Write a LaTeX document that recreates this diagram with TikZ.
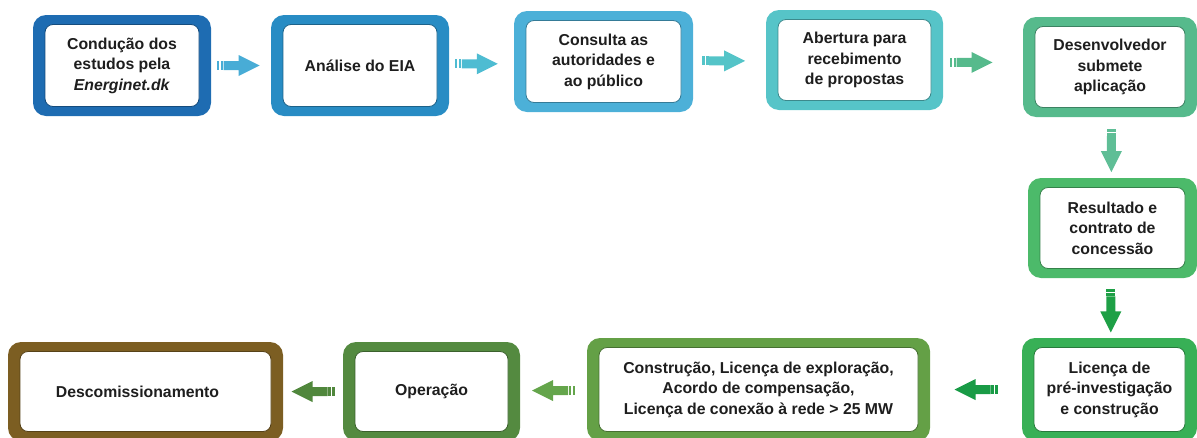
\documentclass[tikz,border=0pt]{standalone}
\usepackage{fontspec}
\setmainfont{Liberation Sans}
\usetikzlibrary{calc}
\definecolor{cA}{RGB}{30,108,178}
\definecolor{cB}{RGB}{40,140,196}
\definecolor{cC}{RGB}{76,176,216}
\definecolor{cD}{RGB}{86,196,200}
\definecolor{cE}{RGB}{86,186,140}
\definecolor{cF}{RGB}{76,186,106}
\definecolor{cG}{RGB}{56,176,86}
\definecolor{cH}{RGB}{100,160,70}
\definecolor{cI}{RGB}{84,138,64}
\definecolor{cJ}{RGB}{124,94,34}
\definecolor{aA}{RGB}{72,172,214}
\definecolor{aB}{RGB}{78,188,210}
\definecolor{aC}{RGB}{84,196,200}
\definecolor{aD}{RGB}{86,186,140}
\definecolor{aE}{RGB}{95,190,150}
\definecolor{aF}{RGB}{30,160,70}
\definecolor{aG}{RGB}{25,155,70}
\definecolor{aH}{RGB}{100,165,75}
\definecolor{aI}{RGB}{80,135,60}
\definecolor{txt}{RGB}{30,30,30}
\tikzset{
  outerbox/.style={rectangle, rounded corners=13pt, inner sep=0pt, draw=none},
  innerbox/.style={rectangle, rounded corners=8pt, fill=white, line width=0.8pt,
    inner sep=0pt, align=center, text=txt, font=\fontsize{15.8}{20.5}\selectfont\bfseries},
  blockarrow/.pic={
    \fill (-21.5,-4.5) rectangle (-19,4.5);
    \fill (-17.5,-4.5) rectangle (-15,4.5);
    \fill (-14.5,-4.5) -- (0.5,-4.5) -- (0.5,-10.5) -- (21.5,0) -- (0.5,10.5) -- (0.5,4.5) -- (-14.5,4.5) -- cycle;
  }
}
\newcommand{\flowbox}[7]{%
  \node[outerbox, fill=#6, minimum width=#4, minimum height=#5] (#1) at (#2,#3) {};
  \node[innerbox, draw=#6!70!black, minimum width=#4-24, minimum height=#5-19] (#1-in) at (#1.center) {#7};
}
\begin{document}
\begin{tikzpicture}[x=1pt,y=-1pt]
\useasboundingbox (0,0) rectangle (1197,437);
% top row
\flowbox{b1}{122}{65.5}{178}{101}{cA}{Condução dos\\estudos pela\\\textit{Energinet.dk}}
\flowbox{b2}{360}{65.5}{178}{101}{cB}{Análise do EIA}
\flowbox{b3}{603.5}{61.5}{179}{101}{cC}{Consulta as\\autoridades e\\ao público}
\flowbox{b4}{854.5}{60}{177}{100}{cD}{Abertura para\\recebimento\\de propostas}
\flowbox{b5}{1110}{67}{174}{100}{cE}{Desenvolvedor\\submete\\aplicação}
% right column
\flowbox{b6}{1112.5}{228}{169}{100}{cF}{Resultado e\\contrato de\\concessão}
\flowbox{b7}{1109.5}{389.5}{175}{103}{cG}{Licença de\\pré-investigação\\e construção}
% bottom row
\flowbox{b8}{758.5}{389.5}{343}{103}{cH}{Construção, Licença de exploração,\\Acordo de compensação,\\Licença de conexão à rede > 25 MW}
\flowbox{b9}{431.5}{391.5}{177}{99}{cI}{Operação}
\flowbox{b10}{145.5}{391.5}{275}{99}{cJ}{Descomissionamento\hspace*{16pt}}
% arrows
\pic[fill=aA] at ($(b1.east)!0.45!(b2.west)$) {blockarrow};
\pic[fill=aB] at ($(b2.east)!0.42!(b3.west)$) {blockarrow};
\pic[fill=aC] at ($(b3.east)!0.42!(b4.west)$) {blockarrow};
\pic[fill=aD] at ($(b4.east)!0.35!(b5.west)$) {blockarrow};
\pic[fill=aE, rotate=-90] at ($(b5.south)!0.55!(b6.north)$) {blockarrow};
\pic[fill=aF, rotate=-90] at ($(b6.south)!0.55!(b7.north)$) {blockarrow};
\pic[fill=aG, rotate=180] at ($(b7.west)!0.5!(b8.east)$) {blockarrow};
\pic[fill=aH, rotate=180] at ($(b8.west)!0.5!(b9.east)$) {blockarrow};
\pic[fill=aI, rotate=180] at ($(b9.west)!0.5!(b10.east)$) {blockarrow};
\end{tikzpicture}
\end{document}
